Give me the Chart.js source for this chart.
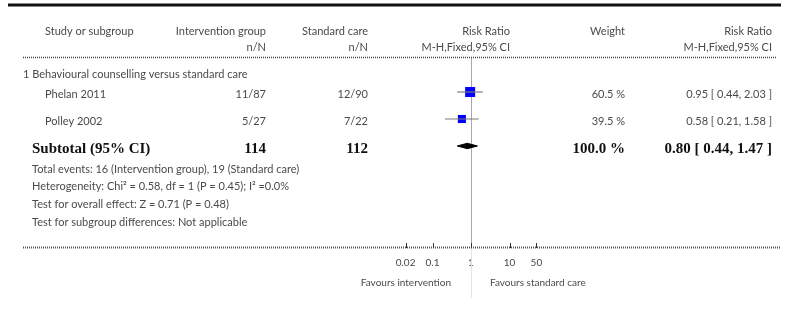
<!DOCTYPE html>
<html>
<head>
<meta charset="utf-8">
<script src="https://cdn.jsdelivr.net/npm/chart.js@4.4.0/dist/chart.umd.min.js"></script>
<style>
  html, body { margin: 0; padding: 0; background: #fff; }
  canvas { display: block; }
</style>
</head>
<body>
<canvas id="forest" width="786" height="321"></canvas>
<script>
// study data
const studies = ['Phelan 2011', 'Polley 2002'];
const intEvents = [11, 5];
const intTotal = [87, 27];
const ctlEvents = [12, 7];
const ctlTotal = [90, 22];
const riskRatio = [0.95, 0.58];
const ciLow = [0.44, 0.21];
const ciHigh = [2.03, 1.58];
const weights = [60.5, 39.5];

// pooled estimate: [estimate, low, high]
const pooled = [0.80, 0.44, 1.47];

const tickValues = [0.02, 0.1, 1, 10, 50];
const tickLabels = ['0.02', '0.1', '1', '10', '50'];

const subgroupTitle = '1 Behavioural counselling versus standard care';
const sumInt = intTotal.reduce((a, b) => a + b, 0);
const sumCtl = ctlTotal.reduce((a, b) => a + b, 0);
const evInt = intEvents.reduce((a, b) => a + b, 0);
const evCtl = ctlEvents.reduce((a, b) => a + b, 0);
const summaryLines = [
  'Total events: ' + evInt + ' (Intervention group), ' + evCtl + ' (Standard care)',
  'Heterogeneity: Chi\u00B2 = 0.58, df = 1 (P = 0.45); I\u00B2 =0.0%',
  'Test for overall effect: Z = 0.71 (P = 0.48)',
  'Test for subgroup differences: Not applicable'
];

const SANS = 'Lato, "Open Sans", sans-serif';
const SERIF = '"Liberation Serif", "DejaVu Serif", serif';
const ink = '#4a4a4a';

function fmtCI(e, l, h) {
  return e.toFixed(2) + ' [ ' + l.toFixed(2) + ', ' + h.toFixed(2) + ' ]';
}

function txt(ctx, s, x, y, align, font, color) {
  ctx.font = font;
  ctx.fillStyle = color || ink;
  ctx.textAlign = align;
  ctx.textBaseline = 'middle';
  ctx.fillText(s, x, y);
}

function hline(ctx, x0, x1, y, width, color, dash) {
  ctx.save();
  ctx.strokeStyle = color;
  ctx.lineWidth = width;
  ctx.setLineDash(dash || []);
  ctx.beginPath();
  ctx.moveTo(x0, y);
  ctx.lineTo(x1, y);
  ctx.stroke();
  ctx.restore();
}

const forestTable = {
  id: 'forestTable',
  beforeDatasetsDraw(chart) {
    const ctx = chart.ctx;
    const area = chart.chartArea;
    const x1 = Math.round(chart.scales.x.getPixelForValue(1)) + 0.5;
    ctx.save();
    ctx.lineWidth = 1;
    ctx.strokeStyle = '#a8a8a8';
    ctx.beginPath();
    ctx.moveTo(x1, area.top);
    ctx.lineTo(x1, area.bottom);
    ctx.stroke();
    ctx.strokeStyle = '#e4e4e4';
    ctx.beginPath();
    ctx.moveTo(x1, area.bottom);
    ctx.lineTo(x1, 298);
    ctx.stroke();
    ctx.restore();
  },
  afterDraw(chart) {
    const ctx = chart.ctx;
    const xs = chart.scales.x;
    const ys = chart.scales.y;
    const area = chart.chartArea;
    const f11 = '11px ' + SANS;
    const f10 = '10px ' + SANS;
    const bold = 'bold 15px ' + SERIF;

    // rules
    hline(ctx, 8, 781, 5, 3, '#111');
    hline(ctx, 23, 776, 57.5, 1.5, '#444', [1, 1]);
    hline(ctx, 23, 780, area.bottom - 0.5, 2, '#555', [1, 1]);

    // axis tick marks
    ctx.save();
    ctx.strokeStyle = '#333';
    ctx.lineWidth = 1;
    tickValues.forEach(v => {
      const px = Math.round(xs.getPixelForValue(v)) + 0.5;
      ctx.beginPath();
      ctx.moveTo(px, area.bottom - 5);
      ctx.lineTo(px, area.bottom);
      ctx.stroke();
    });
    ctx.restore();

    // header
    txt(ctx, 'Study or subgroup', 45, 31, 'left', f11);
    txt(ctx, 'Intervention group', 266, 31, 'right', f11);
    txt(ctx, 'Standard care', 368, 31, 'right', f11);
    txt(ctx, 'Risk Ratio', 510, 31, 'right', f11);
    txt(ctx, 'Weight', 625, 31, 'right', f11);
    txt(ctx, 'Risk Ratio', 772, 31, 'right', f11);
    txt(ctx, 'n/N', 266, 47, 'right', f11);
    txt(ctx, 'n/N', 368, 47, 'right', f11);
    txt(ctx, 'M-H,Fixed,95% CI', 510, 47, 'right', f11);
    txt(ctx, 'M-H,Fixed,95% CI', 772, 47, 'right', f11);

    txt(ctx, subgroupTitle, 23, 74, 'left', f11);

    // study rows
    studies.forEach((s, i) => {
      const py = ys.getPixelForValue(i) + 2;
      txt(ctx, s, 45, py, 'left', f11);
      txt(ctx, intEvents[i] + '/' + intTotal[i], 266, py, 'right', f11);
      txt(ctx, ctlEvents[i] + '/' + ctlTotal[i], 368, py, 'right', f11);
      txt(ctx, weights[i].toFixed(1) + ' %', 625, py, 'right', f11);
      txt(ctx, fmtCI(riskRatio[i], ciLow[i], ciHigh[i]), 772, py, 'right', f11);
    });

    // subtotal row
    const sy = ys.getPixelForValue(studies.length) + 3;
    const wSum = weights.reduce((a, b) => a + b, 0);
    txt(ctx, 'Subtotal (95% CI)', 32, sy, 'left', bold, '#111');
    txt(ctx, String(sumInt), 266, sy, 'right', bold, '#111');
    txt(ctx, String(sumCtl), 368, sy, 'right', bold, '#111');
    txt(ctx, wSum.toFixed(1) + ' %', 625, sy, 'right', bold, '#111');
    txt(ctx, fmtCI(pooled[0], pooled[1], pooled[2]), 772, sy, 'right', bold, '#111');

    const lineY = [169, 186, 204, 222];
    summaryLines.forEach((s, i) => txt(ctx, s, 32, lineY[i], 'left', f11));

    // favours labels
    const x1 = xs.getPixelForValue(1);
    txt(ctx, 'Favours intervention', x1 - 20, 283, 'right', f10);
    txt(ctx, 'Favours standard care', x1 + 19, 283, 'left', f10);
  }
};

// datasets: CI lines first so they sit on top of the squares
const datasets = [];
studies.forEach((s, i) => {
  datasets.push({
    type: 'scatter',
    label: s + ' CI',
    data: [{ x: ciLow[i], y: i }, { x: ciHigh[i], y: i }],
    showLine: true,
    borderColor: '#7a7a7a',
    borderWidth: 1.2,
    pointRadius: 0
  });
});
datasets.push({
  type: 'scatter',
  label: 'Studies',
  data: studies.map((s, i) => ({ x: riskRatio[i], y: i })),
  pointStyle: 'rect',
  pointRadius: weights.map(w => 0.91 * Math.sqrt(w)),
  backgroundColor: '#0000ff',
  borderColor: '#0000ff',
  borderWidth: 0
});
const dy = 0.1;
const row = studies.length;
datasets.push({
  type: 'scatter',
  label: 'Pooled',
  data: [
    { x: pooled[1], y: row },
    { x: pooled[0], y: row - dy },
    { x: pooled[2], y: row },
    { x: pooled[0], y: row + dy },
    { x: pooled[1], y: row }
  ],
  showLine: true,
  fill: 'shape',
  borderColor: '#000',
  backgroundColor: '#000',
  borderWidth: 1,
  pointRadius: 0
});

new Chart(document.getElementById('forest'), {
  type: 'scatter',
  data: { datasets: datasets },
  plugins: [forestTable],
  options: {
    responsive: false,
    animation: false,
    devicePixelRatio: 1,
    layout: { padding: { left: 394, right: 238, top: 58, bottom: 0 } },
    plugins: { legend: { display: false }, tooltip: { enabled: false } },
    scales: {
      x: {
        type: 'logarithmic',
        min: 0.01,
        max: 100,
        position: 'bottom',
        grid: { display: false, drawTicks: false },
        border: { display: false },
        afterBuildTicks: scale => { scale.ticks = tickValues.map(v => ({ value: v })); },
        afterFit: scale => { scale.height = 73; },
        ticks: {
          autoSkip: false,
          maxRotation: 0,
          padding: 9,
          color: ink,
          font: { family: SANS, size: 10 },
          callback: v => tickLabels[tickValues.indexOf(v)]
        }
      },
      y: {
        type: 'linear',
        display: false,
        reverse: true,
        min: -1.26,
        max: 5.78
      }
    }
  }
});
</script>
</body>
</html>
